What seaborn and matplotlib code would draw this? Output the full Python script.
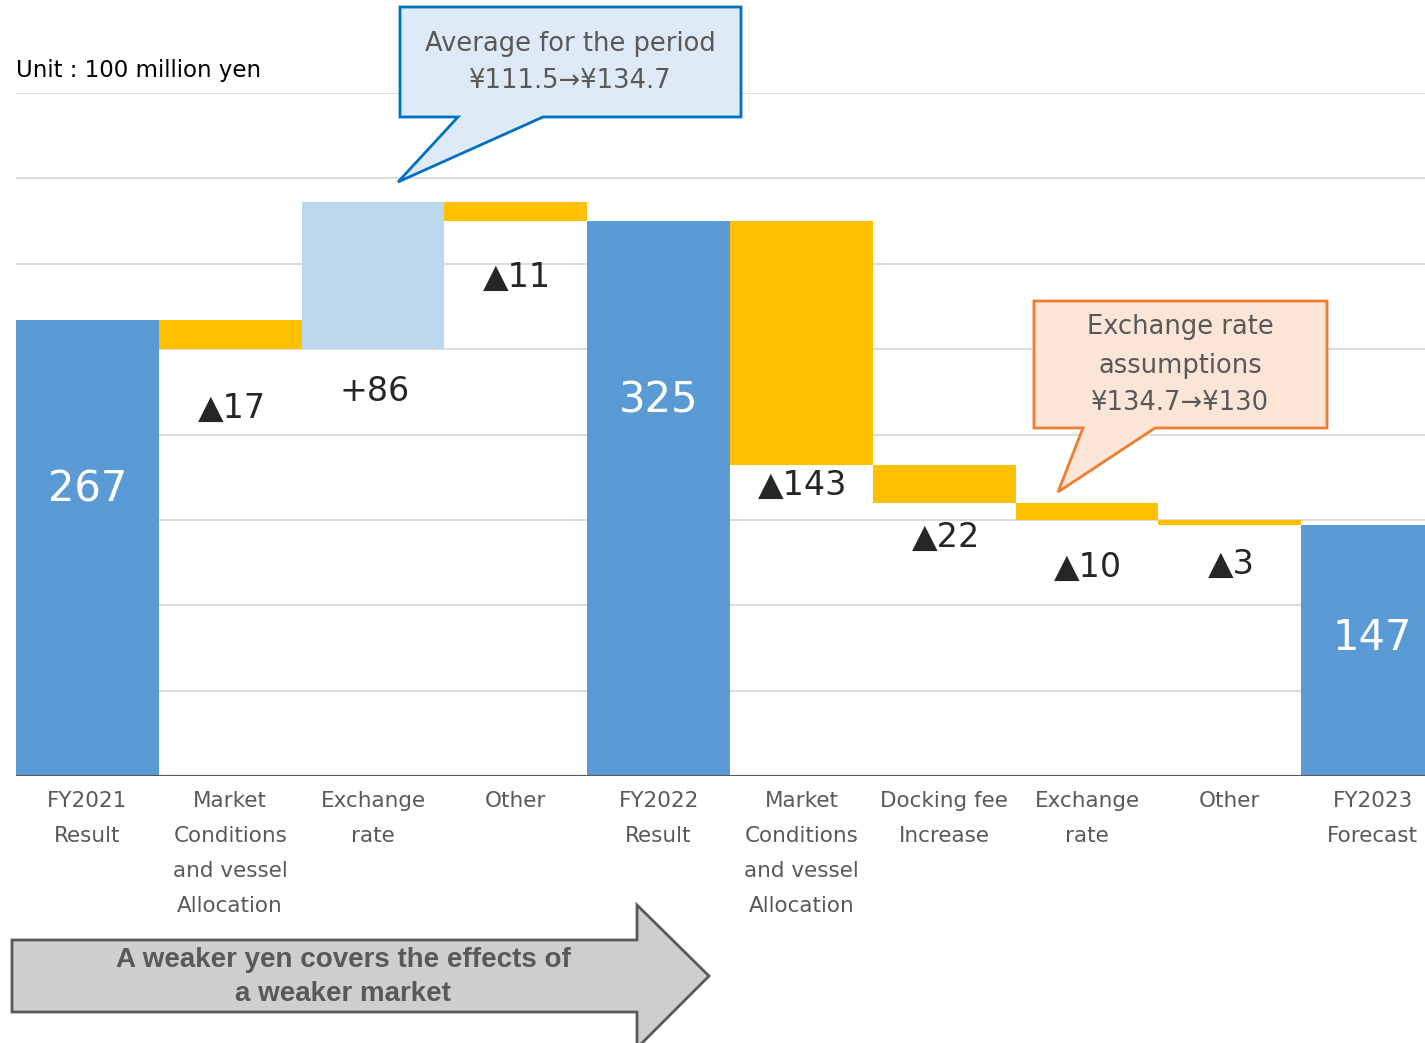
import matplotlib
matplotlib.use("Agg")
import matplotlib.pyplot as plt
from matplotlib.patches import Polygon
import seaborn as sns
import pandas as pd
import numpy as np

# ---------------- data ----------------
categories = ["FY2021\nResult", "Market\nConditions\nand vessel\nAllocation", "Exchange\nrate", "Other",
              "FY2022\nResult", "Market\nConditions\nand vessel\nAllocation", "Docking fee\nIncrease",
              "Exchange\nrate", "Other", "FY2023\nForecast"]
steps = [267, -17, 86, -11, 325, -143, -22, -10, -3, 147]
is_total = [True, False, False, False, True, False, False, False, False, True]
value_labels = ["267", "▲17", "+86", "▲11", "325", "▲143", "▲22", "▲10", "▲3", "147"]

# ---------------- waterfall geometry ----------------
bottoms, heights, kinds = [], [], []
running = 0
for s, tot in zip(steps, is_total):
    if tot:
        bottoms.append(0); heights.append(s); kinds.append("total"); running = s
    else:
        new = running + s
        bottoms.append(min(running, new)); heights.append(abs(s))
        kinds.append("pos" if s > 0 else "neg"); running = new

keys = [f"c{i}" for i in range(len(categories))]
df = pd.DataFrame({"key": keys, "height": heights, "kind": kinds})
palette = {"total": "#5B9BD5", "neg": "#FFC000", "pos": "#BDD7EE"}

sns.set_style("white")
plt.rcParams["font.family"] = ["DejaVu Sans", "Noto Sans CJK JP"]

W, H = 1425, 1043
fig = plt.figure(figsize=(W / 100, H / 100), dpi=100)
ax = fig.add_axes([16 / W, 1 - 776 / H, 1428 / W, 683 / H])

sns.barplot(data=df, x="key", y="height", hue="kind", palette=palette, order=keys,
            dodge=False, width=1.0, saturation=1, legend=False, ax=ax, linewidth=0)

for p in ax.patches:
    h = p.get_height()
    if h is None or np.isnan(h) or h == 0:
        continue
    idx = int(round(p.get_x() + p.get_width() / 2))
    p.set_y(bottoms[idx])
    p.set_zorder(2)

ax.set_xlim(-0.5, 9.5)
ax.set_ylim(0, 400)
ax.set_yticks(np.arange(0, 401, 50))
ax.yaxis.grid(True, color="#D9D9D9", lw=1.3)
ax.set_axisbelow(True)
for sp in ax.spines.values():
    sp.set_visible(False)
ax.axhline(0, color="#595959", lw=1.5, zorder=3)
ax.set_xlabel(""); ax.set_ylabel("")
ax.set_xticks(range(len(categories)))
ax.set_xticklabels(categories, fontsize=15.5, color="#595959", linespacing=1.93)
ax.tick_params(axis="both", length=0, labelleft=False)
ax.tick_params(axis="x", pad=11)

# value labels (layout positions)
label_y = [168, 215, 225, 292, 220, 170, 140, 122, 124, 81]
for i, (lab, tot) in enumerate(zip(value_labels, is_total)):
    if tot:
        ax.text(i, label_y[i], lab, ha="center", va="center", color="white", fontsize=30, zorder=5)
    else:
        ax.text(i + 0.01, label_y[i], lab, ha="center", va="center", color="#262626", fontsize=24, zorder=5)

# ---------------- overlay annotations (pixel space) ----------------
ov = fig.add_axes([0, 0, 1, 1], zorder=10)
ov.set_xlim(0, W); ov.set_ylim(H, 0); ov.axis("off"); ov.patch.set_alpha(0)

fig.text(16 / W, 1 - 70 / H, "Unit : 100 million yen", ha="left", va="center", fontsize=16.5, color="black")

c1 = [(400, 7), (741, 7), (741, 117), (543, 117), (398, 182), (458, 117), (400, 117)]
ov.add_patch(Polygon(c1, closed=True, facecolor="#DEEBF7", edgecolor="#0070C0", lw=2))
ov.text(570, 44, "Average for the period", ha="center", va="center", fontsize=18.5, color="#595959")
ov.text(570, 81, "¥111.5→¥134.7", ha="center", va="center", fontsize=18.5, color="#595959")

c2 = [(1034, 301), (1327, 301), (1327, 428), (1155, 428), (1058, 492), (1083, 428), (1034, 428)]
ov.add_patch(Polygon(c2, closed=True, facecolor="#FBE5D6", edgecolor="#ED7D31", lw=2))
ov.text(1180, 327, "Exchange rate", ha="center", va="center", fontsize=18.5, color="#595959")
ov.text(1180, 366, "assumptions", ha="center", va="center", fontsize=18.5, color="#595959")
ov.text(1180, 403, "¥134.7→¥130", ha="center", va="center", fontsize=18.5, color="#595959")

arr = [(12, 940), (637, 940), (637, 905), (709, 976), (637, 1048), (637, 1012), (12, 1012)]
ov.add_patch(Polygon(arr, closed=True, facecolor="#D0CECE", edgecolor="#595959", lw=2))
ov.text(343, 960, "A weaker yen covers the effects of", ha="center", va="center",
        fontsize=20, fontweight="bold", color="#595959", family=["Liberation Sans", "DejaVu Sans"])
ov.text(343, 994, "a weaker market", ha="center", va="center",
        fontsize=20, fontweight="bold", color="#595959", family=["Liberation Sans", "DejaVu Sans"])

fig.savefig("out.png", dpi=100)
